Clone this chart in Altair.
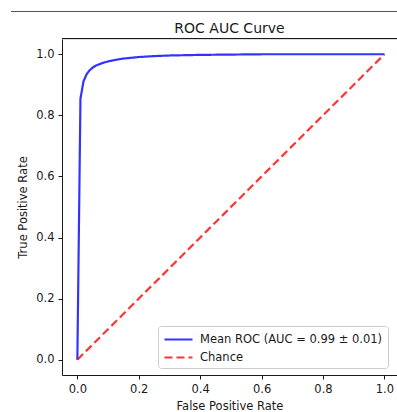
import altair as alt
import pandas as pd

# Mean ROC curve
mean_fpr = [0.0, 0.0101, 0.0202, 0.0303, 0.0404, 0.0505, 0.0606, 0.0707, 0.0808,
            0.101, 0.1212, 0.15, 0.2, 0.25, 0.3, 0.4, 0.5, 0.6, 0.7, 0.8, 0.9, 1.0]
mean_tpr = [0.0, 0.855, 0.912, 0.935, 0.948, 0.957, 0.963, 0.967, 0.971,
            0.977, 0.981, 0.986, 0.991, 0.994, 0.996, 0.998, 0.999, 1.0, 1.0, 1.0, 1.0, 1.0]

# Chance diagonal
chance_fpr = [0.0, 1.0]
chance_tpr = [0.0, 1.0]

series_names = ["Mean ROC (AUC = 0.99 ± 0.01)", "Chance"]
series_colors = ["#0000ff", "#ff0000"]
series_dashes = [[1, 0], [8, 4]]

x_ticks = [0.0, 0.2, 0.4, 0.6, 0.8, 1.0]
y_ticks = [0.0, 0.2, 0.4, 0.6, 0.8, 1.0]

mean_df = pd.DataFrame({"fpr": mean_fpr, "tpr": mean_tpr, "series": series_names[0]})
chance_df = pd.DataFrame({"fpr": chance_fpr, "tpr": chance_tpr, "series": series_names[1]})

FONT = "DejaVu Sans"
INK = "#1a1a1a"

x_enc = alt.X(
    "fpr:Q",
    scale=alt.Scale(domain=[-0.05, 1.041], nice=False, zero=False),
    axis=alt.Axis(values=x_ticks, format=".1f", title="False Positive Rate",
                  grid=False, tickSize=4, labelPadding=4, titlePadding=6,
                  domainColor=INK, tickColor=INK,
                  labelColor=INK, titleColor=INK,
                  labelFontSize=11.5, titleFontSize=11.5,
                  titleFontWeight="normal", labelFont=FONT, titleFont=FONT),
)
y_enc = alt.Y(
    "tpr:Q",
    scale=alt.Scale(domain=[-0.05, 1.05], nice=False, zero=False),
    axis=alt.Axis(values=y_ticks, format=".1f", title="True Positive Rate",
                  grid=False, tickSize=4, labelPadding=4, titlePadding=7,
                  domainColor=INK, tickColor=INK,
                  labelColor=INK, titleColor=INK,
                  labelFontSize=11.5, titleFontSize=11.5,
                  titleFontWeight="normal", labelFont=FONT, titleFont=FONT),
)
color_enc = alt.Color(
    "series:N",
    scale=alt.Scale(domain=series_names, range=series_colors),
    sort=series_names,
    legend=alt.Legend(
        title=None, orient="none", legendX=96, legendY=287,
        symbolType="M-1,0L3,0", symbolSize=196, symbolStrokeWidth=2.2,
        symbolOpacity=0.8, labelOffset=20, labelFontSize=11.5, labelFont=FONT,
        labelColor=INK, rowPadding=4, padding=5,
        fillColor="#ffffff", strokeColor="#cccccc", cornerRadius=3,
        labelLimit=400,
    ),
)
dash_enc = alt.StrokeDash(
    "series:N",
    scale=alt.Scale(domain=series_names, range=series_dashes),
    sort=series_names,
    legend=alt.Legend(title=None, orient="none", legendX=96, legendY=287),
)

mean_line = alt.Chart(mean_df).mark_line(strokeWidth=2.2, opacity=0.8).encode(
    x=x_enc, y=y_enc, color=color_enc, strokeDash=dash_enc
)
chance_line = alt.Chart(chance_df).mark_line(strokeWidth=2.2, opacity=0.8).encode(
    x=x_enc, y=y_enc, color=color_enc, strokeDash=dash_enc
)

# top spine of the frame and the separator line above the figure
top_spine = alt.Chart(mean_df).mark_rule(color=INK, strokeWidth=1).encode(
    x=alt.value(0), x2=alt.value(340), y=alt.value(-0.5)
)
separator = alt.Chart(mean_df).mark_rule(color="#555555", strokeWidth=1).encode(
    x=alt.value(-51), x2=alt.value(340), y=alt.value(-27.5)
)

chart = (
    alt.layer(mean_line, chance_line, top_spine, separator)
    .properties(
        width=335, height=336,
        title=alt.TitleParams("ROC AUC Curve", fontSize=14, font=FONT,
                              fontWeight="normal", color=INK,
                              anchor="middle", offset=-25),
        autosize=alt.AutoSizeParams(type="none"),
        padding={"left": 62, "top": 39, "right": 0, "bottom": 37},
    )
    .configure_view(stroke=None)
    .configure(background="#ffffff")
)

chart.save("out.html", embed_options={"renderer": "svg", "actions": False})
